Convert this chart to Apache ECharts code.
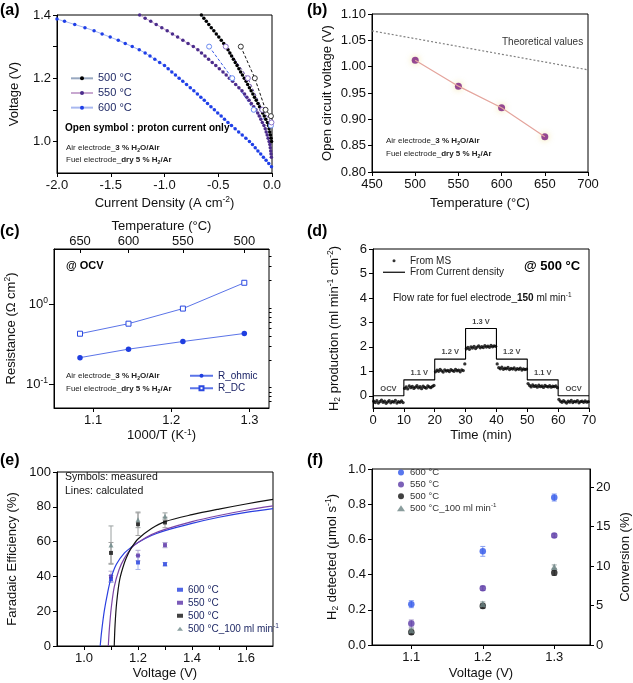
<!DOCTYPE html>
<html><head><meta charset="utf-8">
<script src="https://cdn.jsdelivr.net/npm/echarts@6/dist/echarts.min.js"></script>
<style>html,body{margin:0;padding:0;background:#fff}#c{width:633px;height:683px}</style>
</head><body><div id="c"></div>
<script>
// ---------- DATA ----------
// (a) I-V curves [current density A/cm2, voltage V]
const A600 = [[-2.0,1.387],[-1.93,1.38],[-1.835,1.37],[-1.74,1.36],[-1.655,1.35],[-1.58,1.34],[-1.505,1.33],[-1.43,1.32],[-1.365,1.31],[-1.30,1.30],[-1.235,1.29],[-1.18,1.28],[-1.135,1.27],[-1.09,1.26],[-1.045,1.25],[-1.0,1.24],[-0.966,1.23],[-0.932,1.22],[-0.898,1.21],[-0.864,1.20],[-0.83,1.19],[-0.795,1.18],[-0.76,1.17],[-0.727,1.16],[-0.694,1.15],[-0.662,1.14],[-0.63,1.13],[-0.6,1.12],[-0.568,1.11],[-0.536,1.10],[-0.505,1.09],[-0.473,1.08],[-0.442,1.07],[-0.41,1.06],[-0.377,1.05],[-0.343,1.04],[-0.31,1.03],[-0.277,1.02],[-0.243,1.01],[-0.21,1.00],[-0.182,0.99],[-0.156,0.98],[-0.131,0.97],[-0.105,0.96],[-0.08,0.95],[-0.055,0.94],[-0.03,0.93],[-0.005,0.92]];
const A550 = [[-1.231,1.40],[-1.18,1.39],[-1.128,1.38],[-1.077,1.37],[-1.025,1.36],[-0.975,1.35],[-0.926,1.34],[-0.878,1.33],[-0.829,1.32],[-0.781,1.31],[-0.732,1.30],[-0.69,1.29],[-0.656,1.28],[-0.623,1.27],[-0.59,1.26],[-0.556,1.25],[-0.523,1.24],[-0.49,1.23],[-0.456,1.22],[-0.426,1.21],[-0.397,1.20],[-0.367,1.19],[-0.338,1.18],[-0.308,1.17],[-0.279,1.16],[-0.255,1.15],[-0.234,1.14],[-0.213,1.13],[-0.192,1.12],[-0.17,1.11],[-0.149,1.10],[-0.133,1.09],[-0.119,1.08],[-0.104,1.07],[-0.09,1.06],[-0.075,1.05],[-0.063,1.04],[-0.054,1.03],[-0.045,1.02],[-0.036,1.01],[-0.027,1.00],[-0.02,0.99],[-0.016,0.98],[-0.012,0.97],[-0.009,0.96],[-0.006,0.95]];
const A500 = [[-0.657,1.40],[-0.634,1.39],[-0.611,1.38],[-0.588,1.37],[-0.565,1.36],[-0.541,1.35],[-0.518,1.34],[-0.495,1.33],[-0.472,1.32],[-0.449,1.31],[-0.426,1.30],[-0.409,1.29],[-0.392,1.28],[-0.376,1.27],[-0.359,1.26],[-0.342,1.25],[-0.325,1.24],[-0.308,1.23],[-0.292,1.22],[-0.275,1.21],[-0.258,1.20],[-0.241,1.19],[-0.226,1.18],[-0.21,1.17],[-0.194,1.16],[-0.178,1.15],[-0.163,1.14],[-0.147,1.13],[-0.131,1.12],[-0.116,1.11],[-0.101,1.10],[-0.087,1.09],[-0.072,1.08],[-0.058,1.07],[-0.043,1.06],[-0.033,1.05],[-0.027,1.04],[-0.021,1.03],[-0.015,1.02],[-0.009,1.01],[-0.004,1.00]];
const AP600 = [[-0.585,1.30],[-0.37,1.20],[-0.17,1.10],[-0.01,1.05]];
const AP550 = [[-0.43,1.30],[-0.225,1.20],[-0.09,1.10],[-0.005,1.06]];
const AP500 = [[-0.29,1.30],[-0.16,1.20],[-0.06,1.10],[-0.01,1.08]];
// (b)
const B_TEMP = [500,550,600,650];
const B_OCV = [1.012,0.963,0.922,0.867];
const B_THEO_T = [450,700];
const B_THEO_V = [1.068,0.994];
// (c)
const C_TEMP = [650,600,550,500];
const C_OHMIC = [0.215,0.275,0.343,0.433];
const C_DC = [0.43,0.575,0.89,1.88];
// (d)
const D_STEP_T = [0,10,20,30,40,50,60,70];
const D_STEP_H2 = [0,0.65,1.5,2.75,1.5,0.65,0,0];
const D_STEP_LABELS = ['OCV','1.1 V','1.2 V','1.3 V','1.2 V','1.1 V','OCV'];
const D_MS = [
 [-0.22,-0.28,-0.2,-0.3,-0.24,-0.18,-0.27,-0.22,-0.31,-0.25,-0.2,-0.29,-0.23,-0.26,-0.19,-0.3,-0.24,-0.27,-0.21,-0.28],
 [0.3,0.36,0.28,0.4,0.33,0.38,0.3,0.35,0.41,0.32,0.37,0.29,0.39,0.34,0.31,0.4,0.36,0.33,0.38,0.42],
 [0.98,1.05,1.0,1.08,1.02,0.97,1.06,1.01,1.04,0.99,1.07,1.03,1.0,1.08,1.02,1.05,0.98,1.06,1.03,1.3],
 [1.92,1.98,1.9,2.0,1.95,2.02,1.93,1.99,2.04,1.96,2.01,1.97,2.05,1.99,2.03,1.98,2.06,2.0,2.04,2.02],
 [1.3,1.15,1.1,1.17,1.08,1.13,1.1,1.16,1.07,1.12,1.09,1.14,1.06,1.11,1.08,1.13,1.05,1.1,1.07,1.09],
 [0.5,0.42,0.36,0.44,0.38,0.41,0.35,0.43,0.37,0.4,0.34,0.42,0.38,0.36,0.41,0.35,0.39,0.37,0.4,0.33],
 [-0.15,-0.22,-0.27,-0.2,-0.25,-0.3,-0.22,-0.26,-0.19,-0.28,-0.23,-0.25,-0.2,-0.29,-0.24,-0.22,-0.27,-0.21,-0.26,-0.24]
];
const D_MS_STEP = 0.5;
// (e)
const E_V = [1.1,1.2,1.3];
const E600 = [38.5,48,47];   const E600_ERR = [2,4,1];
const E550 = [40,52,58];     const E550_ERR = [3,3,1.5];
const E500 = [53.5,70,71];   const E500_ERR = [6,6.5,3];
const E500F = [58,72.5,74.5];const E500F_ERR = [11,4.5,2];
const E_CALC600 = [[1.06,0],[1.065,8],[1.075,20],[1.088,31],[1.1,39],[1.12,47],[1.15,53.5],[1.177,57],[1.2,59.5],[1.25,63.5],[1.3,66.3],[1.4,70.5],[1.5,74],[1.6,76.8],[1.7,79]];
const E_CALC550 = [[1.09,0],[1.094,10],[1.101,22],[1.112,34],[1.13,44],[1.15,50.5],[1.177,56.5],[1.2,59.5],[1.25,64],[1.3,67],[1.4,71.5],[1.5,75],[1.6,78],[1.7,80.5]];
const E_CALC500 = [[1.112,0],[1.115,12],[1.121,25],[1.132,38],[1.15,48],[1.165,53.5],[1.18,57.5],[1.2,61.5],[1.25,67.5],[1.3,71.5],[1.4,75.5],[1.5,78.7],[1.6,81.6],[1.7,84.3]];
// (f)
const F_V = [1.1,1.2,1.3];
const F600 = [0.232,0.532,0.838];  const F600_ERR = [0.02,0.028,0.02];
const F550 = [0.122,0.322,0.622];  const F550_ERR = [0.02,0.012,0.01];
const F500 = [0.073,0.222,0.41];   const F500_ERR = [0.013,0.015,0.015];
const F500F = [0.085,0.235,0.445]; const F500F_ERR = [0.01,0.01,0.01];

// ---------- HELPERS ----------
const FONT = '"Liberation Sans", Arial, Helvetica, sans-serif';
function rich(fs, color) {
  const sm = Math.round(fs * 0.65 * 10) / 10;
  const base = {fontFamily: FONT, color: color, fill: color};
  return {
    n: Object.assign({fontSize: fs, lineHeight: fs * 1.25}, base),
    b: Object.assign({fontSize: fs, fontWeight: 'bold', lineHeight: fs * 1.25}, base),
    sup: Object.assign({fontSize: sm, verticalAlign: 'top', lineHeight: sm}, base),
    sub: Object.assign({fontSize: sm, verticalAlign: 'bottom', lineHeight: sm}, base),
    bsub: Object.assign({fontSize: sm, fontWeight: 'bold', verticalAlign: 'bottom', lineHeight: sm}, base)
  };
}
function merge(a, b) {
  for (const k in b) {
    const v = b[k];
    if (v && typeof v === 'object' && !Array.isArray(v) && a[k] && typeof a[k] === 'object' && !Array.isArray(a[k])) merge(a[k], v);
    else a[k] = v;
  }
  return a;
}
function axis(o) {
  return merge({
    type: 'value',
    axisLine: {show: true, onZero: false, lineStyle: {color: '#000', width: 1}},
    axisTick: {show: true, inside: false, length: 4, lineStyle: {color: '#000', width: 1}},
    axisLabel: {color: '#111', fontSize: 13, fontFamily: FONT, margin: 6},
    splitLine: {show: false},
    nameLocation: 'middle',
    nameTextStyle: {color: '#111', fontSize: 13, fontFamily: FONT, lineHeight: 16, rich: rich(13, '#111')}
  }, o);
}
const zip = (xs, ys) => xs.map((x, i) => [x, ys[i]]);
const errData = (xs, ys, es) => xs.map((x, i) => [x, ys[i] - es[i], ys[i] + es[i]]);
function errSeries(xi, yi, data, color, cap) {
  return {
    type: 'custom', xAxisIndex: xi, yAxisIndex: yi, data: data, z: 1,
    encode: {x: 0, y: [1, 2]},
    renderItem: function (params, api) {
      const x = api.value(0), lo = api.value(1), hi = api.value(2);
      const a = api.coord([x, lo]), b = api.coord([x, hi]);
      const st = {stroke: color, lineWidth: 1, fill: null};
      return {type: 'group', children: [
        {type: 'line', shape: {x1: a[0], y1: a[1], x2: b[0], y2: b[1]}, style: st},
        {type: 'line', shape: {x1: a[0] - cap, y1: a[1], x2: a[0] + cap, y2: a[1]}, style: st},
        {type: 'line', shape: {x1: b[0] - cap, y1: b[1], x2: b[0] + cap, y2: b[1]}, style: st}
      ]};
    }
  };
}
function txt(x, y, text, fs, color, opts) {
  return merge({
    type: 'text', x: x, y: y, silent: true,
    style: {text: text, fontSize: fs, fontFamily: FONT, fill: color, align: 'left', verticalAlign: 'middle',
      lineHeight: fs * 1.25, rich: rich(fs, color)}
  }, opts || {});
}
const LEG = {
  a500: '500 °C', a550: '550 °C', a600: '600 °C',
  R_ohmic: 'R_ohmic', R_DC: 'R_DC',
  dMS: 'From MS', dCD: 'From Current density',
  e600: '600 °C', e550: '550 °C', e500: '500 °C', e500F: '500 °C_100 ml min{sup|-1}',
  f600: '600 °C', f550: '550 °C', f500: '500 °C', f500F: '500 °C_100 ml min{sup|-1}'
};
function legend(o, fs, color) {
  return merge({
    orient: 'vertical', selectedMode: false, padding: 0, itemGap: 2,
    formatter: n => LEG[n],
    textStyle: {fontSize: fs, fontFamily: FONT, color: color, lineHeight: fs * 1.15, rich: rich(fs, color)}
  }, o);
}
const C_INVT = C_TEMP.map(t => 1000 / (t + 273.15));
const L = Math.log10;
const C_MINOR = [0.06,0.07,0.08,0.09,0.2,0.3,0.4,0.5,0.6,0.7,0.8,0.9,2,3,4].map(v => L(v));

// ---------- OPTION ----------
const option = {
  animation: false,
  backgroundColor: '#fff',
  grid: [
    {left: 57, top: 15, width: 215, height: 158},
    {left: 372, top: 14, width: 216, height: 158},
    {left: 54, top: 249, width: 215, height: 159},
    {left: 373, top: 249, width: 216, height: 159},
    {left: 57, top: 472, width: 216, height: 174},
    {left: 372, top: 469, width: 218, height: 176}
  ].map(g => Object.assign({show: true, borderColor: '#000', borderWidth: 1, containLabel: false, outerBoundsMode: 'none'}, g)),
  xAxis: [
    axis({gridIndex: 0, min: -2, max: 0, interval: 0.5, axisLabel: {formatter: v => v.toFixed(1)},
      name: 'Current Density (A cm{sup|-2})', nameGap: 22}),
    axis({gridIndex: 1, min: 450, max: 700, interval: 50, name: 'Temperature (°C)', nameGap: 23}),
    axis({gridIndex: 2, min: 1.05, max: 1.325, axisLabel: {customValues: [1.1, 1.2, 1.3], formatter: v => v.toFixed(1)},
      axisTick: {customValues: [1.1, 1.2, 1.3]}, name: '1000/T (K{sup|-1})', nameGap: 17}),
    axis({gridIndex: 2, position: 'top', min: 1.05, max: 1.325,
      axisLabel: {customValues: C_INVT, margin: 1, formatter: v => String(Math.round(1000 / v - 273.15))},
      axisTick: {customValues: C_INVT, inside: true}, name: 'Temperature (°C)', nameGap: 12}),
    axis({gridIndex: 3, min: 0, max: 70, interval: 10, name: 'Time (min)', nameGap: 19}),
    axis({gridIndex: 4, min: 0.9, max: 1.7,
      axisLabel: {customValues: [1.0, 1.2, 1.4, 1.6], formatter: v => v.toFixed(1)},
      axisTick: {customValues: [1.0, 1.1, 1.2, 1.3, 1.4, 1.5, 1.6]}, name: 'Voltage (V)', nameGap: 19}),
    axis({gridIndex: 5, min: 1.045, max: 1.35,
      axisLabel: {customValues: [1.1, 1.2, 1.3], formatter: v => v.toFixed(1)},
      axisTick: {customValues: [1.1, 1.2, 1.3]}, name: 'Voltage (V)', nameGap: 20})
  ],
  yAxis: [
    axis({gridIndex: 0, min: 0.9, max: 1.4, axisLabel: {customValues: [1.0, 1.2, 1.4], formatter: v => v.toFixed(1)},
      axisTick: {customValues: [1.0, 1.1, 1.2, 1.3, 1.4]}, name: 'Voltage (V)', nameGap: 35}),
    axis({gridIndex: 1, min: 0.8, max: 1.1, interval: 0.05, axisLabel: {formatter: v => v.toFixed(2)},
      name: 'Open circuit voltage (V)', nameGap: 37}),
    axis({gridIndex: 2, min: L(0.05), max: L(5),
      axisLabel: {customValues: [-1, 0], formatter: v => Math.round(v) === 0 ? '10{sup|0}' : '10{sup|-1}',
        rich: rich(13, '#111'), lineHeight: 16},
      axisTick: {customValues: [-1, 0], length: 5}, name: 'Resistance (Ω cm{sup|2})', nameGap: 35}),
    axis({gridIndex: 2, min: L(0.05), max: L(5), axisLine: {show: false}, axisLabel: {show: false},
      axisTick: {customValues: C_MINOR, length: 2.5}}),
    axis({gridIndex: 3, min: -0.5, max: 6, axisLabel: {customValues: [0, 1, 2, 3, 4, 5, 6]},
      axisTick: {customValues: [0, 1, 2, 3, 4, 5, 6]},
      name: 'H{sub|2} production (ml min{sup|-1} cm{sup|-2})', nameGap: 31}),
    axis({gridIndex: 4, min: 0, max: 100, interval: 20, name: 'Faradaic Efficiency (%)', nameGap: 37}),
    axis({gridIndex: 5, min: 0, max: 1, interval: 0.2, axisLabel: {formatter: v => v.toFixed(1)},
      name: 'H{sub|2} detected (μmol s{sup|-1})', nameGap: 32}),
    axis({gridIndex: 5, position: 'right', min: 0, max: 22.3,
      axisLabel: {customValues: [0, 5, 10, 15, 20]}, axisTick: {customValues: [0, 5, 10, 15, 20]},
      name: 'Conversion (%)', nameGap: 27, nameRotate: 90})
  ],
  legend: [
    legend({left: 70, top: 72, itemWidth: 22, itemHeight: 5, data: ['a500', 'a550', 'a600']}, 11, '#202a66'),
    legend({left: 189, top: 370, itemWidth: 23, itemHeight: 5, itemGap: 1, data: ['R_ohmic', 'R_DC']}, 10, '#1a2266'),
    legend({left: 383, top: 255, itemWidth: 22, itemHeight: 3, itemGap: 0,
      data: ['dMS', {name: 'dCD', icon: 'path://M0,0h44v2.4h-44z'}]}, 10, '#222'),
    legend({left: 177, top: 584, itemWidth: 6, itemHeight: 4, itemGap: 1.5, data: ['e600', 'e550', 'e500', 'e500F']}, 10, '#202a66'),
    legend({left: 397, top: 467, itemWidth: 8, itemHeight: 6, itemGap: 1, data: ['f600', 'f550', 'f500', 'f500F']}, 9.5, '#333')
  ],
  series: [
    // (a)
    {name: 'a600', type: 'line', xAxisIndex: 0, yAxisIndex: 0, data: A600, symbol: 'circle', symbolSize: 3.5,
      itemStyle: {color: '#1f3fe8'}, lineStyle: {color: '#a8b8f0', width: 1}},
    {name: 'a550', type: 'line', xAxisIndex: 0, yAxisIndex: 0, data: A550, symbol: 'circle', symbolSize: 3.5,
      itemStyle: {color: '#4b2c8c'}, lineStyle: {color: '#c8a8d0', width: 1}},
    {name: 'a500', type: 'line', xAxisIndex: 0, yAxisIndex: 0, data: A500, symbol: 'circle', symbolSize: 3.5,
      itemStyle: {color: '#000'}, lineStyle: {color: '#98a8c0', width: 1}},
    {name: 'ap600', type: 'line', xAxisIndex: 0, yAxisIndex: 0, data: AP600, symbol: 'circle', symbolSize: 5,
      itemStyle: {color: '#fff', borderColor: '#6a8af0', borderWidth: 1}, lineStyle: {color: '#3a5ae8', width: 1, type: [3, 2]}},
    {name: 'ap550', type: 'line', xAxisIndex: 0, yAxisIndex: 0, data: AP550, symbol: 'circle', symbolSize: 5,
      itemStyle: {color: '#fff', borderColor: '#8a70c8', borderWidth: 1}, lineStyle: {color: '#5a3ca0', width: 1, type: [3, 2]}},
    {name: 'ap500', type: 'line', xAxisIndex: 0, yAxisIndex: 0, data: AP500, symbol: 'circle', symbolSize: 5,
      itemStyle: {color: '#fff', borderColor: '#333', borderWidth: 1}, lineStyle: {color: '#111', width: 1, type: [3, 2]}},
    // (b)
    {name: 'bTheo', type: 'line', xAxisIndex: 1, yAxisIndex: 1, data: zip(B_THEO_T, B_THEO_V), symbol: 'none',
      lineStyle: {color: '#808080', width: 1.2, type: [2, 2]}},
    {name: 'bFit', type: 'line', xAxisIndex: 1, yAxisIndex: 1, data: zip(B_TEMP, B_OCV), symbol: 'none',
      lineStyle: {color: '#e4a49c', width: 1.2}},
    {name: 'bPts', type: 'scatter', xAxisIndex: 1, yAxisIndex: 1, data: zip(B_TEMP, B_OCV), symbolSize: 7,
      itemStyle: {color: '#7b1c7e', shadowBlur: 6, shadowColor: 'rgba(235,215,120,0.9)'}},
    // (c)
    {name: 'R_ohmic', type: 'line', xAxisIndex: 2, yAxisIndex: 2, data: zip(C_INVT, C_OHMIC.map(L)), symbol: 'circle', symbolSize: 5.5,
      itemStyle: {color: '#1f3ee0'}, lineStyle: {color: '#5b74e8', width: 1}},
    {name: 'R_DC', type: 'line', xAxisIndex: 2, yAxisIndex: 2, data: zip(C_INVT, C_DC.map(L)), symbol: 'rect', symbolSize: 5,
      itemStyle: {color: '#fff', borderColor: '#2a48e0', borderWidth: 1}, lineStyle: {color: '#5b74e8', width: 1}},
    {name: 'cTop', type: 'line', xAxisIndex: 3, yAxisIndex: 3, data: []},
    // (d)
    {name: 'dCD', type: 'line', xAxisIndex: 4, yAxisIndex: 4, data: zip(D_STEP_T, D_STEP_H2), step: 'end', symbol: 'none',
      itemStyle: {color: '#000'}, lineStyle: {color: '#000', width: 1.1}},
    {name: 'dMS', type: 'scatter', xAxisIndex: 4, yAxisIndex: 4, symbolSize: 3.3, itemStyle: {color: '#000'},
      data: D_MS.flatMap((seg, s) => seg.map((v, i) => [D_STEP_T[s] + D_MS_STEP / 2 + i * D_MS_STEP, v]))},
    {name: 'dLab', type: 'scatter', xAxisIndex: 4, yAxisIndex: 4, symbolSize: 0, silent: true,
      data: D_STEP_LABELS.map((t, i) => ({value: [(D_STEP_T[i] + D_STEP_T[i + 1]) / 2, D_STEP_H2[i]], name: t})),
      label: {show: true, position: 'top', distance: 3, formatter: p => p.name, fontSize: 7.5, fontWeight: 'bold', fontFamily: FONT, color: '#111'}},
    // (e)
    {name: 'eC600', type: 'line', xAxisIndex: 5, yAxisIndex: 5, data: E_CALC600, smooth: 0.3, symbol: 'none', lineStyle: {color: '#2a3fe0', width: 1.2}},
    {name: 'eC550', type: 'line', xAxisIndex: 5, yAxisIndex: 5, data: E_CALC550, smooth: 0.3, symbol: 'none', lineStyle: {color: '#7a44a6', width: 1.2}},
    {name: 'eC500', type: 'line', xAxisIndex: 5, yAxisIndex: 5, data: E_CALC500, smooth: 0.3, symbol: 'none', lineStyle: {color: '#111', width: 1.2}},
    errSeries(5, 5, errData(E_V, E500F, E500F_ERR), '#9aa0a0', 2.5),
    errSeries(5, 5, errData(E_V, E500, E500_ERR), '#a0a0a0', 2.5),
    errSeries(5, 5, errData(E_V, E550, E550_ERR), '#b0a8d0', 2.5),
    errSeries(5, 5, errData(E_V, E600, E600_ERR), '#a8b4e8', 2.5),
    {name: 'e600', type: 'scatter', xAxisIndex: 5, yAxisIndex: 5, data: zip(E_V, E600), symbol: 'rect', symbolSize: 4, itemStyle: {color: '#2440e0'}},
    {name: 'e550', type: 'scatter', xAxisIndex: 5, yAxisIndex: 5, data: zip(E_V, E550), symbol: 'rect', symbolSize: 4, itemStyle: {color: '#5a32a8'}},
    {name: 'e500', type: 'scatter', xAxisIndex: 5, yAxisIndex: 5, data: zip(E_V, E500), symbol: 'rect', symbolSize: 4, itemStyle: {color: '#111'}},
    {name: 'e500F', type: 'scatter', xAxisIndex: 5, yAxisIndex: 5, data: zip(E_V, E500F), symbol: 'triangle', symbolSize: 5, itemStyle: {color: '#6e8a8a'}},
    // (f)
    errSeries(6, 6, errData(F_V, F600, F600_ERR), '#8aa0f0', 2.5),
    errSeries(6, 6, errData(F_V, F550, F550_ERR), '#a090c8', 2.5),
    errSeries(6, 6, errData(F_V, F500, F500_ERR), '#888', 2.5),
    errSeries(6, 6, errData(F_V, F500F, F500F_ERR), '#9aa8a8', 2.5),
    {name: 'f600', type: 'scatter', xAxisIndex: 6, yAxisIndex: 6, data: zip(F_V, F600), symbolSize: 6.5, itemStyle: {color: '#2e55ea'}},
    {name: 'f550', type: 'scatter', xAxisIndex: 6, yAxisIndex: 6, data: zip(F_V, F550), symbolSize: 6.5, itemStyle: {color: '#5b3aa6'}},
    {name: 'f500', type: 'scatter', xAxisIndex: 6, yAxisIndex: 6, data: zip(F_V, F500), symbolSize: 6.5, itemStyle: {color: '#111'}},
    {name: 'f500F', type: 'scatter', xAxisIndex: 6, yAxisIndex: 6, data: zip(F_V, F500F), symbol: 'triangle', symbolSize: 6.5, itemStyle: {color: '#6d8585'}},
    {name: 'fRight', type: 'scatter', xAxisIndex: 6, yAxisIndex: 7, data: []}
  ],
  graphic: {elements: [
    txt(0, 11, '(a)', 16, '#000', {style: {fontWeight: 'bold'}}),
    txt(307, 11, '(b)', 16, '#000', {style: {fontWeight: 'bold'}}),
    txt(0, 232, '(c)', 16, '#000', {style: {fontWeight: 'bold'}}),
    txt(307, 232, '(d)', 16, '#000', {style: {fontWeight: 'bold'}}),
    txt(0, 461, '(e)', 16, '#000', {style: {fontWeight: 'bold'}}),
    txt(307, 461, '(f)', 16, '#000', {style: {fontWeight: 'bold'}}),
    // (a)
    txt(65, 128, 'Open symbol : proton current only', 10, '#000', {style: {fontWeight: 'bold'}}),
    txt(66, 148, 'Air electrode_{b|3 % H}{bsub|2}{b|O/Air}', 8, '#222'),
    txt(66, 160, 'Fuel electrode_{b|dry 5 % H}{bsub|2}{b|/Ar}', 8, '#222'),
    // (b)
    txt(502, 42, 'Theoretical values', 10, '#333'),
    txt(386, 141, 'Air electrode_{b|3 % H}{bsub|2}{b|O/Air}', 8, '#222'),
    txt(386, 154, 'Fuel electrode_{b|dry 5 % H}{bsub|2}{b|/Ar}', 8, '#222'),
    // (c)
    txt(66, 266, '@ OCV', 11, '#000', {style: {fontWeight: 'bold'}}),
    txt(66, 376, 'Air electrode_{b|3 % H}{bsub|2}{b|O/Air}', 8, '#222'),
    txt(66, 389, 'Fuel electrode_{b|dry 5 % H}{bsub|2}{b|/Ar}', 8, '#222'),
    // (d)
    txt(524, 266, '@ 500 °C', 13, '#000', {style: {fontWeight: 'bold'}}),
    txt(393, 298, 'Flow rate for fuel electrode_{b|150} ml min{sup|-1}', 10, '#111'),
    // (e)
    txt(65, 477, 'Symbols: measured', 10.5, '#111'),
    txt(65, 491, 'Lines: calculated', 10.5, '#111')
  ]}
};
const chart = echarts.init(document.getElementById('c'), null, {renderer: 'canvas', width: 633, height: 683});
chart.setOption(option);
</script></body></html>
